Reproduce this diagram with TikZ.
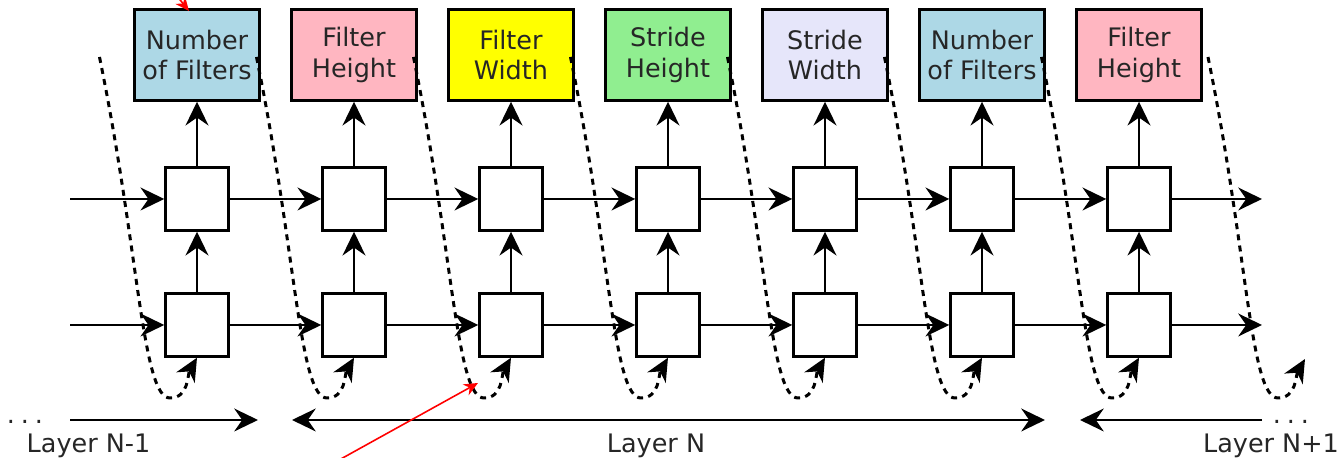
\documentclass[tikz,border=0pt]{standalone}
\usepackage{fontspec}
\setmainfont{DejaVu Sans}
\usetikzlibrary{arrows.meta}
\definecolor{numcol}{HTML}{ADD8E6}
\definecolor{fhcol}{HTML}{FFB6C1}
\definecolor{fwcol}{HTML}{FFFF00}
\definecolor{shcol}{HTML}{90EE90}
\definecolor{swcol}{HTML}{E6E6FA}

\begin{document}
\begin{tikzpicture}[>={Stealth[length=13.5pt,width=13pt,inset=4.5pt]},->,line width=1.4pt,
    cell node/.style={rectangle,draw,fill=white,minimum size=1.26cm,inner sep=0pt},
    param node/.style={rectangle,draw,minimum width=2.5cm,minimum height=1.82cm,inner sep=1pt,align=center,text=black!85,font=\fontsize{14.5}{17.5}\selectfont},
    layer node/.style={anchor=base,text=black!85,font=\fontsize{14.5}{17.5}\selectfont},
    loop line/.style={line width=1.7pt,dash pattern=on 3.4pt off 3pt,-{Stealth[length=13pt,width=12pt,inset=4pt]}},
    note/.style={red,line width=0.9pt,-{Stealth[length=8pt,width=7pt]}}]

  \useasboundingbox (0,0) rectangle (26.86,9.16);

  % one column per hyperparameter
  \foreach \lbl/\col [count=\i] in {{Number\\of Filters}/numcol,{Filter\\Height}/fhcol,{Filter\\Width}/fwcol,{Stride\\Height}/shcol,{Stride\\Width}/swcol,{Number\\of Filters}/numcol,{Filter\\Height}/fhcol} {
    \node[cell node] (lo\i) at ({0.8+3.14*\i},2.66) {};
    \node[cell node] (hi\i) at ({0.8+3.14*\i},5.18) {};
    \node[param node,fill=\col] (p\i) at ({0.8+3.14*\i},8.06) {\lbl};
    \path (lo\i) edge (hi\i) (hi\i) edge (p\i);
  }
  \foreach \i/\j in {1/2,2/3,3/4,4/5,5/6,6/7}
    \path (lo\i) edge (lo\j) (hi\i) edge (hi\j);

  \coordinate (inlo) at (1.4,2.66);
  \coordinate (inhi) at (1.4,5.18);
  \coordinate (outlo) at (25.24,2.66);
  \coordinate (outhi) at (25.24,5.18);
  \path (inlo) edge (lo1) (inhi) edge (hi1) (lo7) edge (outlo) (hi7) edge (outhi);

  % dotted feedback from the previous output
  \foreach \i in {1,...,7} {
    \pgfmathsetmacro\x{0.8+3.14*\i}
    \coordinate (s\i) at ({\x-1.95},8.02);
    \coordinate (b\i) at ({\x-0.54},1.2);
    \draw[loop line] (s\i) .. controls ({\x-1.15},4.1) and ({\x-1.1},1.2) .. (b\i) to[out=0,in=-120] (lo\i.south);
  }
  \coordinate (s8) at (24.16,8.02);
  \coordinate (b8) at (25.56,1.2);
  \coordinate (tail) at (26.1,1.98);
  \draw[loop line] (s8) .. controls (24.96,4.1) and (25.0,1.2) .. (b8) to[out=0,in=-120] (tail);

  % layers
  \node[layer node] (dotsl) at (0.5,0.68) {.\hspace{0.23em}.\hspace{0.23em}.};
  \coordinate (la) at (1.4,0.76);
  \coordinate (lb) at (5.16,0.76);
  \draw (la) -- (lb);
  \node[layer node] (lnm1) at (1.77,0.1) {Layer N-1};
  \coordinate (lc) at (5.84,0.76);
  \coordinate (ld) at (20.9,0.76);
  \draw[<->] (lc) -- (ld);
  \node[layer node] (ln) at (13.12,0.1) {Layer N};
  \coordinate (le) at (25.24,0.76);
  \coordinate (lf) at (21.6,0.76);
  \draw (le) -- (lf);
  \node[layer node] (lnp1) at (25.42,0.1) {Layer N+1};
  \node[layer node] (dotsr) at (25.82,0.68) {.\hspace{0.23em}.\hspace{0.23em}.};

  % red pointers
  \coordinate (r1a) at (3.45,9.35);
  \coordinate (r1b) at (3.78,8.94);
  \draw[note] (r1a) -- (r1b);
  \coordinate (r2a) at (6.6,-0.14);
  \coordinate (r2b) at (9.56,1.5);
  \draw[note] (r2a) -- (r2b);
\end{tikzpicture}
\end{document}
